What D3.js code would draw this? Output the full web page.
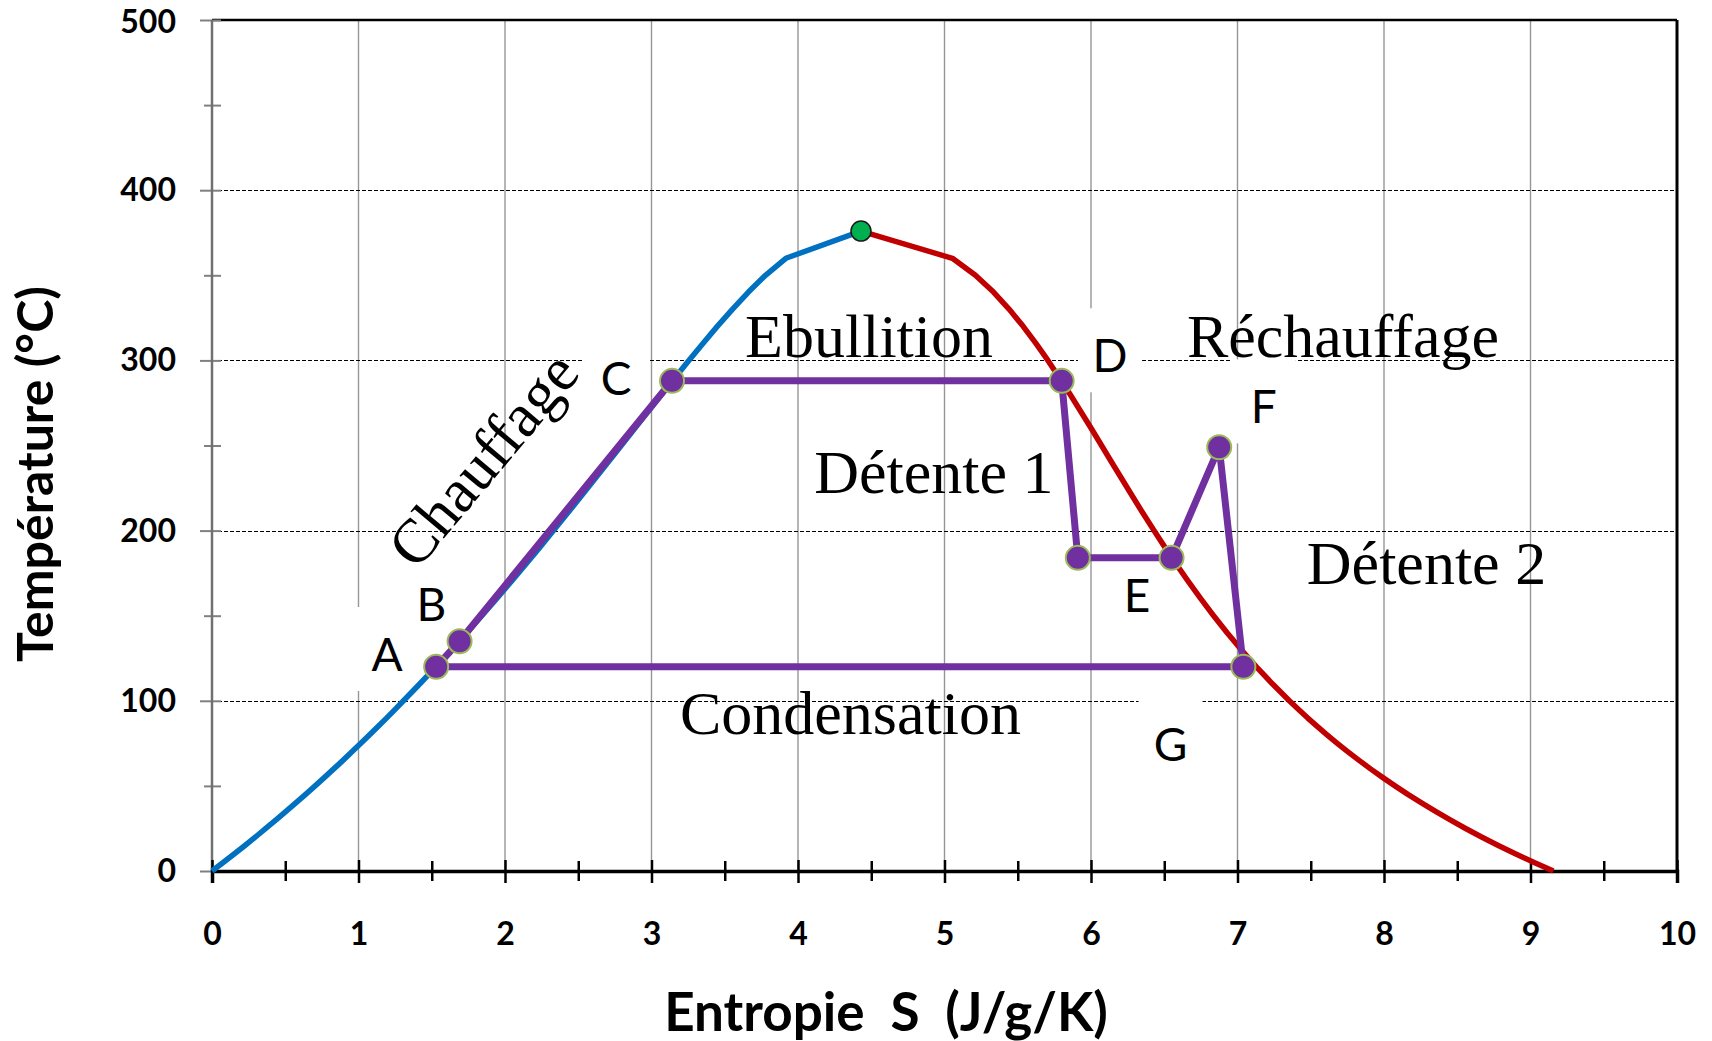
<!DOCTYPE html>
<html lang="fr">
<head>
<meta charset="UTF-8">
<title>Diagramme T-S</title>
<script src="https://d3js.org/d3.v7.min.js"></script>
<style>
body {margin:0; background:#fff;}
</style>
</head>
<body>
<div id="my_dataviz"></div>
<script>
// courbe de saturation de l'eau : temperature (°C) et entropie (J/g/K)
var satT = [0,5,10,15,20,25,30,35,40,45,50,55,60,65,70,75,80,85,90,95,100,
  110,120,130,140,150,160,170,180,190,200,210,220,230,240,250,260,270,280,290,300,
  310,320,330,340,350,360,376];
var liqS = [0,0.076,0.151,0.225,0.297,0.367,0.437,0.505,0.572,0.639,0.704,0.768,0.831,0.894,0.955,1.016,1.076,1.135,1.193,1.250,1.307,
  1.419,1.528,1.635,1.739,1.842,1.943,2.042,2.139,2.236,2.331,2.425,2.518,2.610,2.702,2.794,2.885,2.977,3.069,3.161,3.255,
  3.351,3.449,3.552,3.660,3.778,3.917,4.43];
var vapS = [9.156,9.025,8.900,8.780,8.666,8.557,8.452,8.352,8.256,8.163,8.075,7.990,7.908,7.830,7.754,7.681,7.611,7.544,7.478,7.415,7.354,
  7.238,7.129,7.026,6.929,6.837,6.749,6.665,6.584,6.506,6.430,6.356,6.284,6.213,6.142,6.072,6.002,5.930,5.858,5.783,5.706,
  5.624,5.537,5.442,5.336,5.211,5.054,4.43];

// point critique
var critS = [4.43];
var critT = [376];

// cycle (Rankine avec resurchauffe)
var cycleS = [1.53,1.69,3.14,5.80,5.91,6.55,6.875,7.04];
var cycleT = [120,135,288,288,184,184,249,120];

// lettres des points
var ptLabels = ["A","B","C","D","E","F","G"];
var ptLabelS = [1.195,1.498,2.758,6.13,6.314,7.18,6.543];
var ptLabelT = [117.5,147,279.5,293,152,263,64.6];

// textes des transformations
var noteText  = ["Ebullition","Réchauffage","Détente 1","Détente 2","Condensation","Chauffage"];
var noteS     = [4.485,7.72,4.928,8.29,4.358,1.96];
var noteT     = [302,302,221.8,168.6,80.5,234];
var noteAngle = [0,0,0,0,0,-50];

var xTicks = d3.range(0, 11, 1);
var xMinor = d3.range(0.5, 10, 1);
var yTicks = d3.range(0, 501, 100);
var yMinor = d3.range(50, 500, 100);

var margin = {top: 20, right: 35, bottom: 170, left: 212},
    width = 1712 - margin.left - margin.right,
    height = 1041 - margin.top - margin.bottom;

var svg = d3.select("#my_dataviz")
  .append("svg")
    .attr("width", width + margin.left + margin.right)
    .attr("height", height + margin.top + margin.bottom)
  .append("g")
    .attr("transform", "translate(" + margin.left + "," + margin.top + ")");

var x = d3.scaleLinear().domain([0, 10]).range([0, width]);
var y = d3.scaleLinear().domain([0, 500]).range([height, 0]);

// grille verticale grise
svg.append("g").selectAll("line")
  .data(d3.range(1, 10))
  .enter().append("line")
    .attr("x1", function(d){ return x(d); })
    .attr("x2", function(d){ return x(d); })
    .attr("y1", 0)
    .attr("y2", height)
    .attr("stroke", "#969696")
    .attr("stroke-width", 1.4);

// grille horizontale en pointilles
svg.append("g").selectAll("line")
  .data([100, 200, 300, 400])
  .enter().append("line")
    .attr("x1", 0)
    .attr("x2", width)
    .attr("y1", function(d){ return Math.round(y(d)) + 0.5; })
    .attr("y2", function(d){ return Math.round(y(d)) + 0.5; })
    .attr("stroke", "#000")
    .attr("stroke-width", 1.2)
    .attr("stroke-dasharray", "4,2");

// bords haut et droit
svg.append("line")
  .attr("x1", 0).attr("x2", width)
  .attr("y1", y(500)).attr("y2", y(500))
  .attr("stroke", "#000").attr("stroke-width", 2.5);
svg.append("line")
  .attr("x1", x(10)).attr("x2", x(10))
  .attr("y1", y(500)).attr("y2", height)
  .attr("stroke", "#000").attr("stroke-width", 3);

// axe Y
var yAxis = svg.append("g")
  .call(d3.axisLeft(y).tickValues(yTicks).tickSize(12).tickPadding(24));
yAxis.select(".domain").remove();
yAxis.selectAll("line").attr("x1", 9).attr("stroke", "#808080").attr("stroke-width", 2);
yAxis.selectAll("text")
  .style("font-family", "Lato").style("font-weight", "bold").style("font-size", "32px")
  .attr("fill", "#000")
  .attr("dy", function(d){ return d === 500 ? "0.38em" : "0.33em"; });
var yAxisMinor = svg.append("g")
  .call(d3.axisLeft(y).tickValues(yMinor).tickSize(8).tickFormat(""));
yAxisMinor.select(".domain").remove();
yAxisMinor.selectAll("line").attr("x1", 9).attr("stroke", "#808080").attr("stroke-width", 2);
svg.append("line")
  .attr("x1", 0).attr("x2", 0)
  .attr("y1", 0).attr("y2", height)
  .attr("stroke", "#707070").attr("stroke-width", 2.5);

// axe X
var xAxis = svg.append("g")
  .attr("transform", "translate(0," + height + ")")
  .call(d3.axisBottom(x).tickValues(xTicks).tickSize(12).tickPadding(39));
xAxis.select(".domain").attr("stroke", "#000").attr("stroke-width", 3.5);
xAxis.selectAll("line").attr("y1", -11).attr("stroke", "#000").attr("stroke-width", 2.5);
xAxis.selectAll("text")
  .style("font-family", "Lato").style("font-weight", "bold").style("font-size", "32px")
  .attr("fill", "#000");
var xAxisMinor = svg.append("g")
  .attr("transform", "translate(0," + height + ")")
  .call(d3.axisBottom(x).tickValues(xMinor).tickSize(10).tickFormat(""));
xAxisMinor.select(".domain").remove();
xAxisMinor.selectAll("line").attr("y1", -10).attr("stroke", "#000").attr("stroke-width", 2.5);

// titres des axes
svg.append("text")
  .attr("transform", "translate(" + (53 - margin.left) + "," + (474 - margin.top) + ") rotate(-90)")
  .style("text-anchor", "middle")
  .style("font-family", "Lato").style("font-weight", "bold").style("font-size", "50px")
  .text("Température (°C)");
svg.append("text")
  .attr("x", 886 - margin.left)
  .attr("y", 1031 - margin.top)
  .style("text-anchor", "middle")
  .style("white-space", "pre")
  .style("font-family", "Lato").style("font-weight", "bold").style("font-size", "53px")
  .text("Entropie  S  (J/g/K)");

// cadres blancs des lettres (cachent la grille)
svg.append("g").selectAll("rect")
  .data(ptLabels)
  .enter().append("rect")
    .attr("x", function(d, i){ return x(ptLabelS[i]) - 32; })
    .attr("y", function(d, i){ return y(ptLabelT[i]) - 64; })
    .attr("width", 64)
    .attr("height", 84)
    .attr("fill", "#fff");

// textes des transformations
svg.append("g").selectAll("text")
  .data(noteText)
  .enter().append("text")
    .attr("transform", function(d, i){
      return "translate(" + x(noteS[i]) + "," + y(noteT[i]) + ") rotate(" + noteAngle[i] + ")"; })
    .style("text-anchor", "middle")
    .style("font-family", "Liberation Serif")
    .style("font-size", "62px")
    .text(function(d){ return d; });

// courbe de saturation
var liquid = satT.map(function(t, i){ return [liqS[i], t]; });
var vapour = satT.map(function(t, i){ return [vapS[i], t]; });
var line = d3.line()
  .x(function(d){ return x(d[0]); })
  .y(function(d){ return y(d[1]); });

svg.append("path")
  .datum(liquid)
  .attr("d", line)
  .attr("fill", "none")
  .attr("stroke", "#0070C0")
  .attr("stroke-width", 5.5)
  .attr("stroke-linejoin", "round");
svg.append("path")
  .datum(vapour)
  .attr("d", line)
  .attr("fill", "none")
  .attr("stroke", "#C00000")
  .attr("stroke-width", 5.5)
  .attr("stroke-linejoin", "round");

// cycle
var cycle = cycleS.map(function(s, i){ return [s, cycleT[i]]; });
svg.append("path")
  .datum(cycle)
  .attr("d", d3.line().x(function(d){ return x(d[0]); }).y(function(d){ return y(d[1]); }).curve(d3.curveLinearClosed))
  .attr("fill", "none")
  .attr("stroke", "#7030A0")
  .attr("stroke-width", 7)
  .attr("stroke-linejoin", "round");

svg.append("g").selectAll("circle")
  .data(cycle)
  .enter().append("circle")
    .attr("cx", function(d){ return x(d[0]); })
    .attr("cy", function(d){ return y(d[1]); })
    .attr("r", 12)
    .attr("fill", "#7030A0")
    .attr("stroke", "#9BBB59")
    .attr("stroke-width", 2);

// point critique
svg.append("circle")
  .attr("cx", x(critS[0]))
  .attr("cy", y(critT[0]))
  .attr("r", 10)
  .attr("fill", "#00B050")
  .attr("stroke", "#1a1a1a")
  .attr("stroke-width", 1.5);

// lettres
svg.append("g").selectAll("text")
  .data(ptLabels)
  .enter().append("text")
    .attr("x", function(d, i){ return x(ptLabelS[i]); })
    .attr("y", function(d, i){ return y(ptLabelT[i]); })
    .style("text-anchor", "middle")
    .style("font-family", "Lato")
    .style("font-size", "46px")
    .text(function(d){ return d; });
</script>
</body>
</html>
